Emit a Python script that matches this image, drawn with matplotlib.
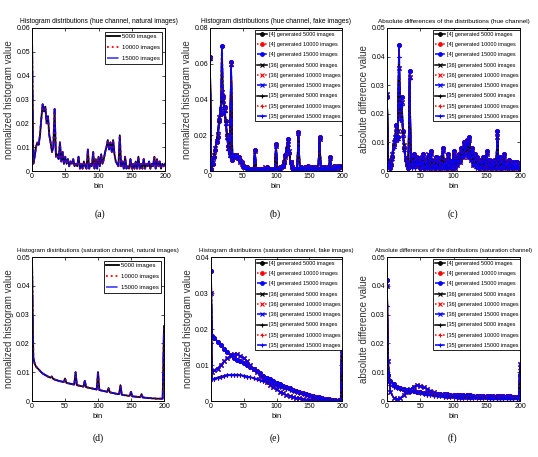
import numpy as np
import matplotlib.pyplot as plt
from matplotlib.ticker import FuncFormatter

plt.rcParams['font.family'] = ['Liberation Sans Narrow', 'Liberation Sans', 'DejaVu Sans']

# ---------------- data (values in units of 1e-3) ----------------
hue_bins = np.arange(0, 201, 2)
sat_bins = np.r_[0, 2, np.arange(5, 200, 5), 198, 200]

hue_nat = [58, 3, 6, 10, 12, 11, 15, 22, 28, 25, 27, 20, 23, 15, 12, 8, 10, 26, 6, 7, 5, 12, 4, 8, 3, 6,
           3, 5, 2, 4, 3, 5, 2, 3, 2, 6, 1, 3, 1, 4, 2, 1, 9, 1, 3, 2, 8, 1, 5, 1, 6,
           2, 7, 3, 5, 8, 10, 13, 9, 12, 8, 13, 7, 4, 3, 2, 15, 2, 4, 1, 6, 1, 2, 1, 5, 1,
           3, 1, 4, 1, 6, 1, 3, 1, 5, 1, 3, 2, 4, 1, 3, 2, 6, 1, 5, 2, 4, 1, 3, 2, 3]

sat_nat = [50, 15, 13, 12, 11.5, 11, 10.5, 10, 9.6, 9.3, 9, 8.8, 8.5, 8.3, 8.1, 8.5, 7.7, 7.5, 7.3, 7.2, 7, 6.9, 6.8, 6.7, 6.6, 7.8,
           6.3, 6.2, 6.1, 6, 5.9, 5.8, 5.7, 10, 5.5, 5.4, 5.3, 5.2, 5.1, 5.0, 7, 4.8, 4.7, 4.6, 4.5, 4.4, 4.3, 4.2, 4.1, 4.0, 10,
           3.8, 3.7, 3.6, 3.5, 3.4, 3.3, 3.2, 4.5, 3.0, 2.9, 2.8, 2.7, 2.6, 2.5, 2.4, 2.4, 5.5, 2.2, 2.1, 2.0, 2.0, 1.9, 1.8, 1.8, 3.2,
           1.6, 1.6, 1.5, 1.5, 1.4, 1.4, 1.3, 2.4, 1.2, 1.2, 1.1, 1.1, 1.0, 1.0, 1.0, 0.9, 0.9, 0.9, 0.8, 0.8, 0.8, 0.8, 0.8, 0.8, 26]

hue_fake_4 = [64, 1, 4, 8, 12, 16, 19, 28, 32, 70, 42, 36, 28, 20, 14, 10, 61, 6, 9, 8, 9, 8, 8, 6, 5, 3,
              2, 2, 2, 1, 1, 1, 1, 1, 12, 1, 1, 1, 1, 1, 1, 1, 1, 2, 1, 1, 1, 1, 1, 1, 15,
              1, 1, 2, 2, 3, 5, 9, 13, 18, 10, 5, 2, 1, 1, 1, 1, 22, 1, 2, 1, 1, 2, 1, 3, 1,
              1, 2, 1, 1, 2, 1, 1, 19, 1, 2, 1, 2, 1, 2, 1, 8, 2, 1, 3, 2, 1, 3, 2, 3, 2]
hue_fake_36 = [63, 2, 5, 9, 13, 17, 20, 30, 34, 44, 40, 34, 27, 19, 13, 9, 60, 7, 8, 8, 9, 7, 7, 5, 4, 3,
               2, 2, 1, 1, 1, 1, 1, 1, 11, 1, 1, 1, 1, 1, 1, 1, 2, 1, 1, 1, 1, 1, 1, 1, 14,
               1, 1, 1, 2, 3, 5, 8, 12, 15, 11, 5, 2, 1, 1, 1, 1, 21, 1, 1, 1, 1, 1, 2, 1, 1,
               1, 1, 2, 1, 1, 1, 1, 18, 1, 1, 2, 1, 1, 1, 2, 7, 1, 2, 1, 3, 2, 1, 3, 2, 3]
hue_fake_35 = [62, 1, 4, 8, 12, 17, 22, 29, 36, 42, 38, 33, 26, 18, 12, 8, 59, 6, 8, 9, 8, 8, 6, 5, 4, 2,
               2, 1, 2, 1, 1, 1, 1, 1, 11, 1, 1, 1, 1, 1, 1, 1, 1, 1, 2, 1, 1, 1, 1, 1, 14,
               1, 1, 1, 2, 3, 4, 8, 12, 16, 10, 4, 2, 1, 1, 1, 1, 21, 1, 1, 2, 1, 1, 1, 2, 1,
               1, 1, 1, 2, 1, 1, 1, 18, 1, 1, 1, 2, 1, 1, 1, 8, 1, 1, 2, 1, 3, 2, 2, 3, 2]

hue_diff_4 = [26, 3, 1, 2, 5, 9, 11, 16, 12, 44, 22, 26, 14, 8, 4, 2, 1, 35, 3, 2, 6, 2, 5, 2, 4, 1,
              3, 6, 1, 4, 2, 5, 1, 7, 2, 3, 1, 5, 2, 4, 1, 3, 8, 2, 4, 1, 6, 2, 3, 1, 7,
              2, 5, 3, 6, 4, 8, 6, 10, 7, 11, 6, 12, 5, 8, 3, 6, 2, 5, 1, 4, 2, 5, 1, 4, 7,
              2, 4, 1, 3, 2, 4, 1, 14, 2, 5, 1, 3, 6, 2, 3, 1, 4, 2, 3, 1, 3, 2, 3, 1, 2]
hue_diff_36 = [27, 4, 2, 3, 6, 10, 12, 15, 14, 36, 20, 24, 13, 9, 5, 3, 2, 33, 4, 3, 5, 3, 4, 3, 5, 2,
               4, 5, 2, 3, 1, 6, 2, 6, 1, 4, 2, 4, 1, 5, 2, 2, 7, 1, 3, 2, 5, 1, 4, 2, 6,
               1, 4, 2, 5, 3, 7, 5, 9, 6, 10, 5, 11, 4, 7, 2, 5, 3, 4, 2, 3, 1, 4, 2, 3, 6,
               1, 3, 2, 4, 1, 3, 2, 12, 1, 4, 2, 2, 5, 1, 2, 2, 3, 1, 2, 2, 2, 1, 2, 2, 1]
hue_diff_35 = [26, 2, 1, 2, 4, 8, 10, 14, 11, 40, 18, 23, 12, 7, 4, 2, 1, 32, 2, 1, 5, 1, 4, 2, 3, 1,
               2, 5, 1, 3, 1, 4, 1, 6, 1, 2, 1, 4, 1, 3, 1, 2, 7, 1, 3, 1, 5, 1, 2, 1, 6,
               1, 4, 2, 5, 3, 7, 5, 9, 6, 10, 5, 11, 4, 7, 2, 5, 1, 4, 1, 3, 1, 4, 1, 3, 6,
               1, 3, 1, 2, 1, 3, 1, 13, 1, 4, 1, 2, 5, 1, 2, 1, 3, 1, 2, 1, 2, 1, 2, 1, 1]

sat_fake_4 = [36, 18, 17.5, 16.5, 15.5, 14.5, 13.5, 12.8, 12, 11.5, 11, 10.5, 10, 9.5, 9, 8.3, 7.7, 7, 6.5, 6, 5.5,
              5, 4.6, 4.2, 3.8, 3.5, 3.1, 2.8, 2.5, 2.2, 1.9, 1.7, 1.4, 1.2, 1.0, 0.8, 0.6, 0.5, 0.4, 0.3, 0.2, 0.2, 34]
sat_fake_36 = [30, 8, 8.5, 9, 10, 11, 12, 12.5, 13, 13, 12.5, 12, 11, 10, 9, 8, 7, 6.2, 5.3, 4.5, 3.8,
               3.2, 2.6, 2.1, 1.7, 1.4, 1.1, 0.9, 0.7, 0.5, 0.4, 0.3, 0.3, 0.2, 0.2, 0.1, 0.1, 0.1, 0.1, 0.1, 0.1, 0.1, 18]
sat_fake_35 = [16, 6, 6.2, 6.5, 6.8, 7, 7.2, 7.3, 7.3, 7.3, 7.2, 7, 6.8, 6.6, 6.4, 6.1, 5.8, 5.5, 5.2, 4.9, 4.6,
               4.3, 4, 3.7, 3.4, 3.1, 2.8, 2.5, 2.2, 1.9, 1.6, 1.4, 1.2, 1.0, 0.8, 0.6, 0.5, 0.4, 0.3, 0.2, 0.1, 0.1, 10]

sat_diff_4 = [42, 9, 7, 6, 5, 4.5, 4, 3.8, 3.6, 3.4, 3.2, 3, 2.9, 2.8, 2.7, 2.6, 2.5, 2.4, 2.3, 2.3, 2.2,
              2.2, 2.1, 2.1, 2, 2, 2, 1.9, 1.9, 1.9, 1.8, 1.8, 1.8, 1.7, 1.7, 1.7, 1.6, 1.6, 1.6, 1.5, 1.5, 1.5, 9]
sat_diff_36 = [40, 14, 3, 1.2, 0.6, 1.0, 2, 3, 4, 5, 5.5, 5.3, 4.8, 4.2, 3.6, 3, 2.6, 2.2, 2, 1.8, 1.7,
               1.6, 1.6, 1.5, 1.5, 1.5, 1.5, 1.5, 1.4, 1.4, 1.4, 1.4, 1.4, 1.4, 1.4, 1.4, 1.4, 1.4, 1.4, 1.4, 1.4, 1.5, 13]
sat_diff_35 = [33, 7, 5.5, 5, 4.5, 4, 3.5, 3.2, 3, 3.5, 3, 2.8, 2.4, 2.2, 2, 1.8, 1.7, 1.6, 1.5, 1.4, 1.3,
               1.3, 1.2, 1.2, 1.1, 1.1, 1.0, 1.0, 1.0, 0.9, 0.9, 0.9, 0.8, 0.8, 0.8, 0.8, 0.7, 0.7, 0.7, 0.7, 0.7, 0.7, 11]

sizes = ['5000', '10000', '15000']
models = ['[4]', '[36]', '[35]']

# ---------------- style ----------------
colors = ['k', 'r', 'b']
styles = ['-', ':', '-.']
marks = ['o', 'x', '+']


def setup(ax, title, ylabel, ymax, ystep, tsize):
    ax.set_xlim(0, 200)
    ax.set_ylim(0, ymax)
    ax.set_xticks([0, 50, 100, 150, 200])
    ax.set_yticks(np.arange(0, ymax + 1e-9, ystep))
    ax.yaxis.set_major_formatter(FuncFormatter(lambda v, p: f'{v:g}'))
    ax.tick_params(direction='in', top=True, right=True, labelsize=5,
                   length=2, width=0.5, pad=1.5)
    for s in ax.spines.values():
        s.set_linewidth(0.7)
    ax.set_title(title, fontsize=tsize, pad=3.5)
    ax.set_ylabel(ylabel, fontsize=7, labelpad=1.5, color='#333333')
    ax.set_xlabel('bin', fontsize=5.5, labelpad=2)


def natural(ax, y):
    for c, ls, n, a in zip(colors, styles, sizes, [1, 1, 0.7]):
        ax.plot(hue_bins, np.array(y) * 1e-3, color=c, ls=ls, lw=1.3, alpha=a, label=n + ' images')
    leg = ax.legend(loc='upper right', bbox_to_anchor=(0.98, 0.975), borderaxespad=0,
                    fontsize=4.3, labelspacing=1.0, handlelength=2.2, handletextpad=0.3,
                    fancybox=False, framealpha=1, edgecolor='k', borderpad=0.4)
    leg.get_frame().set_linewidth(0.6)


def fake(ax, x, ys):
    for m, mk, y in zip(models, marks, ys):
        for c, ls, n in zip(colors, styles, sizes):
            ax.plot(x, np.array(y) * 1e-3, color=c, ls=ls, lw=1.1, marker=mk, ms=2.6,
                    mew=0.8, label=m + ' generated ' + n + ' images')
    leg = ax.legend(loc='upper right', bbox_to_anchor=(1.0, 0.985), borderaxespad=0,
                    fontsize=4.0, labelspacing=0.95, handlelength=1.8, handletextpad=0.3,
                    fancybox=False, framealpha=1, edgecolor='k', borderpad=0.3)
    leg.get_frame().set_linewidth(0.6)


fig = plt.figure(figsize=(5.38, 4.57), dpi=100)
W, H = 538, 457


def add_ax(l, t, r, b):
    return fig.add_axes([l / W, 1 - b / H, (r - l) / W, (b - t) / H])


ax_a = add_ax(32, 28, 165, 171)
ax_b = add_ax(210, 28, 342, 171)
ax_c = add_ax(387, 28, 520, 171)
ax_d = add_ax(32, 257, 164, 401)
ax_e = add_ax(211, 257, 342, 401)
ax_f = add_ax(387, 257, 520, 401)

natural(ax_a, hue_nat)
setup(ax_a, 'Histogram distributions (hue channel, natural images)', 'normalized histogram value', 0.06, 0.01, 4.8)

fake(ax_b, hue_bins, [hue_fake_4, hue_fake_36, hue_fake_35])
setup(ax_b, 'Histogram distributions (hue channel, fake images)', 'normalized histogram value', 0.08, 0.02, 4.8)

fake(ax_c, hue_bins, [hue_diff_4, hue_diff_36, hue_diff_35])
setup(ax_c, 'Absolute differences of the distributions (hue channel)', 'absolute difference value', 0.05, 0.01, 4.6)

natural(ax_d, sat_nat)
setup(ax_d, 'Histogram distributions (saturation channel, natural images)', 'normalized histogram value', 0.05, 0.01, 4.4)

fake(ax_e, sat_bins, [sat_fake_4, sat_fake_36, sat_fake_35])
setup(ax_e, 'Histogram distributions (saturation channel, fake images)', 'normalized histogram value', 0.04, 0.01, 4.4)

fake(ax_f, sat_bins, [sat_diff_4, sat_diff_36, sat_diff_35])
setup(ax_f, 'Absolute differences of the distributions (saturation channel)', 'absolute difference value', 0.05, 0.01, 4.2)

for lab, x, y in [('(a)', 100, 214), ('(b)', 275, 214), ('(c)', 453, 214),
                  ('(d)', 98, 438), ('(e)', 275, 438), ('(f)', 452, 438)]:
    fig.text(x / W, 1 - y / H, lab, ha='center', va='center', fontsize=7,
             family=['Liberation Serif', 'DejaVu Serif'])

fig.savefig('out.png', dpi=100)
